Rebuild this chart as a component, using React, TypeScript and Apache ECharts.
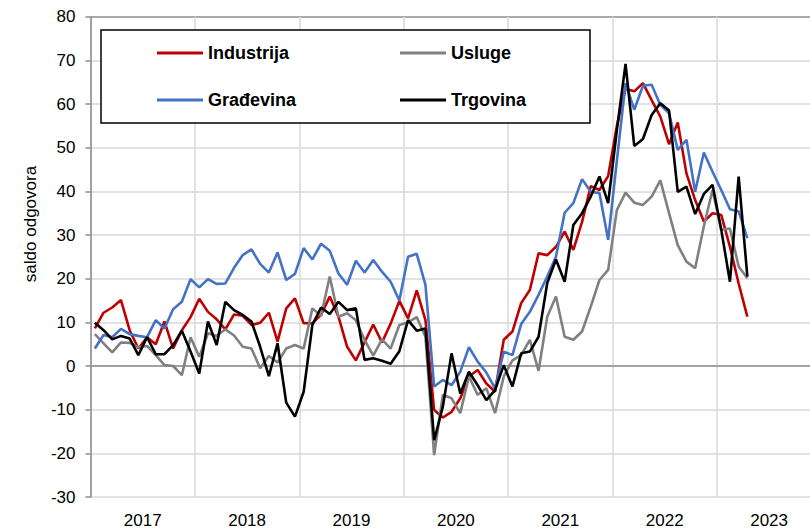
import React, { useEffect, useRef } from "react";
import * as echarts from "echarts";

const years = ["2017", "2018", "2019", "2020", "2021", "2022", "2023"];
const monthNames = ["01", "02", "03", "04", "05", "06", "07", "08", "09", "10", "11", "12"];
const months = years.flatMap((y) => monthNames.map((m) => `${y}-${m}`));

const industrija = [
  8.6, 12.2, 13.4, 15.1, 8.2, 4.0, 6.6, 5.0, 10.2, 4.0, 8.2, 11.2,
  15.4, 12.4, 10.7, 8.4, 11.8, 11.5, 9.4, 9.9, 12.2, 5.6, 13.2, 15.5,
  9.8, 9.8, 11.7, 15.9, 11.3, 4.4, 1.3, 5.4, 9.5, 5.4, 9.7, 14.9,
  10.9, 17.3, 10.5, -10.1, -11.8, -10.5, -7.4, -2.4, -0.9, -4.0, -5.9, 6.0,
  7.9, 14.4, 17.4, 25.8, 25.4, 27.3, 30.8, 26.6, 33.0, 41.2, 40.3, 43.5,
  55.0, 63.5, 62.9, 64.8, 60.9, 57.1, 50.8, 55.8, 44.1, 38.0, 33.1, 35.0,
  34.6, 27.3, 18.9, 11.3,
];

const usluge = [
  7.3, 5.2, 3.1, 5.4, 5.3, 4.3, 4.6, 2.5, 0.2, 0.0, -2.1, 6.6,
  2.1, 7.5, 6.9, 8.4, 7.0, 4.4, 4.0, -0.5, 2.3, 0.8, 4.0, 4.8,
  4.0, 13.2, 11.5, 20.5, 11.3, 12.1, 10.5, 6.0, 2.4, 6.1, 4.0, 9.4,
  10.0, 11.2, 6.7, -20.4, -6.6, -7.4, -10.8, -2.4, -6.6, -5.1, -10.8, -2.4,
  1.3, 2.5, 6.0, -1.1, 11.3, 15.9, 6.7, 6.0, 7.9, 13.6, 19.7, 22.0,
  35.7, 39.7, 37.4, 36.9, 38.8, 42.5, 35.0, 27.7, 23.9, 22.4, 32.0, 40.3,
  31.2, 31.5, 22.8, 20.1,
];

const gradjevina = [
  4.0, 7.1, 6.6, 8.5, 7.3, 6.9, 6.6, 10.5, 8.6, 13.0, 14.7, 19.9,
  18.0, 19.9, 18.8, 18.9, 22.5, 25.4, 26.7, 23.4, 21.4, 26.0, 19.7, 21.1,
  27.0, 24.4, 28.0, 26.4, 21.2, 18.6, 24.1, 21.4, 24.3, 21.6, 19.3, 15.0,
  25.0, 25.7, 18.6, -4.7, -3.2, -4.4, -1.3, 4.3, 1.0, -1.5, -5.1, 3.3,
  2.5, 9.6, 12.4, 16.3, 20.5, 25.0, 35.1, 37.3, 42.8, 39.9, 39.6, 28.9,
  47.0, 64.8, 58.7, 64.2, 64.4, 59.8, 57.9, 49.5, 51.8, 39.9, 48.9, 44.5,
  40.3, 35.9, 35.4, 29.3,
];

const trgovina = [
  9.9, 8.2, 6.1, 6.9, 6.3, 2.5, 6.6, 2.7, 2.7, 4.8, 8.1, 3.3,
  -1.7, 10.2, 4.8, 14.7, 12.8, 11.7, 10.2, 4.4, -2.3, 5.2, -8.4, -11.6,
  -5.9, 9.4, 13.4, 11.9, 14.7, 12.8, 13.2, 1.4, 1.8, 1.2, 0.5, 3.4,
  10.5, 8.1, 8.6, -17.0, -9.3, 2.9, -6.3, -1.3, -4.4, -7.8, -5.5, 0.2,
  -4.7, 2.9, 3.3, 6.7, 19.0, 24.4, 19.3, 32.3, 35.0, 38.8, 43.4, 37.3,
  54.0, 69.2, 50.4, 52.0, 57.5, 60.2, 58.5, 39.9, 41.1, 34.8, 39.4, 41.5,
  31.2, 19.3, 43.4, 20.5,
];

const FONT = "'Liberation Sans', Arial, sans-serif";

export default function App() {
  const ref = useRef<HTMLDivElement>(null);

  useEffect(() => {
    if (!ref.current) return;
    const chart = echarts.init(ref.current, undefined, { renderer: "svg" });
    const gridColors = Array.from({ length: 12 }, (_, i) => (i === 11 ? "#8c8c8c" : "#d9d9d9"));
    const mkSeries = (name: string, data: number[], color: string) => ({
      name,
      type: "line",
      xAxisIndex: 1,
      data,
      color,
      symbol: "none",
      lineStyle: { color, width: 2.6 },
      z: 2,
    });
    chart.setOption({
      animation: false,
      textStyle: { fontFamily: FONT },
      grid: { left: 90.5, top: 16.7, right: 3.7, bottom: 35 },
      xAxis: [
        {
          type: "category",
          data: years,
          boundaryGap: true,
          axisLine: { show: true, lineStyle: { color: "#8c8c8c", width: 1.5 } },
          axisTick: { show: false },
          axisLabel: { color: "#000", fontSize: 17, margin: 15, fontFamily: FONT },
          splitLine: { show: true, interval: 0, lineStyle: { color: "#d9d9d9", width: 1.5 } },
        },
        {
          type: "category",
          data: months,
          boundaryGap: true,
          show: false,
        },
      ],
      yAxis: {
        type: "value",
        min: -30,
        max: 80,
        interval: 10,
        axisLine: { show: true, lineStyle: { color: "#8c8c8c", width: 1.5 } },
        axisTick: { show: true, inside: false, length: 5, lineStyle: { color: "#8c8c8c", width: 1.5 } },
        axisLabel: { color: "#000", fontSize: 17, margin: 15, fontFamily: FONT },
        splitLine: { show: true, lineStyle: { color: gridColors, width: 1.5 } },
      },
      legend: [
        {
          data: ["Industrija", "Građevina"],
          orient: "vertical",
          left: 157,
          top: 44,
          padding: 0,
          itemGap: 29,
          itemWidth: 46,
          itemHeight: 3,
          icon: "rect",
          z: 6,
          textStyle: { fontSize: 18, fontWeight: "bold", color: "#000", fontFamily: FONT, lineHeight: 18 },
        },
        {
          data: ["Usluge", "Trgovina"],
          orient: "vertical",
          left: 400,
          top: 44,
          padding: 0,
          itemGap: 29,
          itemWidth: 46,
          itemHeight: 3,
          icon: "rect",
          z: 6,
          textStyle: { fontSize: 18, fontWeight: "bold", color: "#000", fontFamily: FONT, lineHeight: 18 },
        },
      ],
      graphic: [
        {
          type: "rect",
          z: 4,
          shape: { x: 101, y: 30, width: 489, height: 93 },
          style: { fill: "#fff", stroke: "#000", lineWidth: 1.5 },
        },
        {
          type: "text",
          x: 30,
          y: 224,
          rotation: Math.PI / 2,
          style: {
            text: "saldo odgovora",
            fontSize: 17,
            fontFamily: FONT,
            fill: "#000",
            align: "center",
            verticalAlign: "middle",
          },
        },
      ],
      series: [
        mkSeries("Industrija", industrija, "#C00000"),
        mkSeries("Usluge", usluge, "#808080"),
        mkSeries("Građevina", gradjevina, "#4472C4"),
        mkSeries("Trgovina", trgovina, "#000000"),
      ],
    });
    return () => chart.dispose();
  }, []);

  return (
    <div style={{ position: "fixed", left: 0, top: 0, width: 810, height: 532, overflow: "hidden", background: "#fff" }}>
      <div ref={ref} style={{ width: 825, height: 532 }} />
    </div>
  );
}
